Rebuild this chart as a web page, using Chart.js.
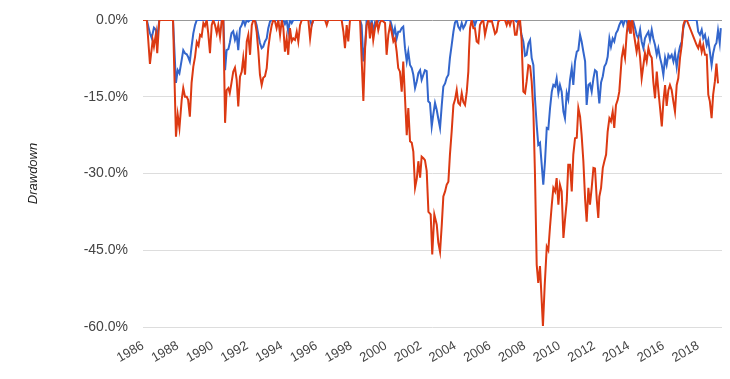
<!DOCTYPE html>
<html>
<head>
<meta charset="utf-8">
<script src="https://cdn.jsdelivr.net/npm/chart.js@4.4.1/dist/chart.umd.min.js"></script>
<style>
  html, body { margin: 0; padding: 0; background: #fff; }
  #wrap { width: 730px; height: 379px; }
</style>
</head>
<body>
<div id="wrap"><canvas id="ddChart" width="730" height="379"></canvas></div>
<script>
// 回撤数据 (年份, 百分比)
const yTicks = [0, -15, -30, -45, -60];
const xTickYears = [1986, 1988, 1990, 1992, 1994, 1996, 1998, 2000, 2002, 2004, 2006, 2008, 2010, 2012, 2014, 2016, 2018];

const blueYears = [
  1986.00, 1986.22, 1986.40, 1986.50, 1986.63, 1986.75, 1986.82, 1986.94, 1987.73, 1987.90,
  1988.00, 1988.10, 1988.23, 1988.32, 1988.42, 1988.52, 1988.60, 1988.70, 1988.80, 1988.90,
  1989.00, 1989.10, 1990.63, 1990.73, 1990.82, 1990.92, 1991.00, 1991.10, 1991.20, 1991.30,
  1991.40, 1991.49, 1991.59, 1991.69, 1991.78, 1991.88, 1991.98, 1992.07, 1992.17, 1992.46,
  1992.55, 1992.65, 1992.74, 1992.84, 1992.93, 1993.03, 1993.13, 1993.22, 1993.32, 1993.42,
  1994.09, 1994.18, 1994.28, 1994.37, 1994.47, 1994.57, 1994.66, 1995.63, 1995.72, 1995.82,
  1998.51, 1998.60, 1998.70, 1998.80, 1998.89, 1998.99, 1999.08, 1999.18, 1999.27, 1999.37,
  1999.47, 1999.56, 2000.24, 2000.33, 2000.43, 2000.52, 2000.62, 2000.71, 2000.81, 2000.91,
  2001.00, 2001.10, 2001.20, 2001.29, 2001.39, 2001.49, 2001.58, 2001.68, 2001.78, 2001.87,
  2001.97, 2002.06, 2002.16, 2002.25, 2002.35, 2002.44, 2002.54, 2002.64, 2002.73, 2002.83,
  2002.93, 2003.02, 2003.12, 2003.22, 2003.31, 2003.41, 2003.50, 2003.60, 2003.69, 2003.79,
  2003.89, 2003.98, 2004.08, 2004.17, 2004.27, 2004.37, 2004.46, 2004.56, 2004.66, 2005.04,
  2005.13, 2005.23, 2007.44, 2007.53, 2007.63, 2007.73, 2007.82, 2007.92, 2008.02, 2008.11,
  2008.21, 2008.31, 2008.40, 2008.50, 2008.59, 2008.69, 2008.78, 2008.88, 2008.98, 2009.07,
  2009.17, 2009.27, 2009.36, 2009.46, 2009.56, 2009.65, 2009.75, 2009.84, 2009.94, 2010.03,
  2010.13, 2010.23, 2010.32, 2010.42, 2010.51, 2010.61, 2010.71, 2010.80, 2010.90, 2011.00,
  2011.09, 2011.19, 2011.28, 2011.38, 2011.48, 2011.57, 2011.67, 2011.76, 2011.86, 2011.96,
  2012.05, 2012.15, 2012.24, 2012.30, 2012.40, 2012.50, 2012.59, 2012.69, 2012.78, 2012.88,
  2012.97, 2013.07, 2013.16, 2013.26, 2013.36, 2013.45, 2013.59, 2013.68, 2013.78, 2013.87,
  2013.97, 2014.07, 2014.16, 2014.26, 2014.36, 2014.45, 2014.55, 2014.65, 2014.74, 2014.84,
  2014.93, 2015.03, 2015.13, 2015.22, 2015.32, 2015.41, 2015.51, 2015.61, 2015.70, 2015.80,
  2015.90, 2015.99, 2016.09, 2016.18, 2016.28, 2016.37, 2016.47, 2016.57, 2016.66, 2016.76,
  2016.85, 2016.95, 2017.05, 2017.14, 2017.24, 2017.34, 2017.91, 2018.00, 2018.10, 2018.20,
  2018.29, 2018.39, 2018.49, 2018.58, 2018.67, 2018.77, 2018.86, 2018.96, 2019.05, 2019.14,
  2019.24, 2019.30
];
const blueValues = [
  0, 0, -2.6, -3.5, -1.5, -2.0, -3.5, 0, 0, -12.3,
  -9.8, -10.4, -7.8, -5.9, -6.5, -6.7, -7.2, -8.1, -5.2, -2.6,
  -1.0, 0, 0, -9.8, -5.9, -5.7, -4.5, -2.6, -2.2, -3.9,
  -2.8, -5.9, -1.6, -1.0, 0, -1.0, 0, -0.3, 0, 0,
  -1.0, -2.9, -4.5, -5.5, -5.2, -4.2, -3.6, -1.6, -0.3, 0,
  0, -0.8, 0, -2.3, 0, -0.6, 0, 0, -1.0, 0,
  0, -1.0, -8.1, -5.0, 0, 0, -1.6, 0, -2.3, -0.5,
  -1.0, 0, 0, -1.0, -2.9, -1.6, -3.6, -2.3, -2.3, -1.6,
  -1.3, -5.5, -8.1, -6.2, -8.8, -9.4, -10.7, -13.3, -12.0, -10.4,
  -9.8, -11.7, -10.7, -9.8, -10.0, -15.9, -16.2, -20.8, -18.5, -16.2,
  -17.6, -19.3, -21.1, -16.6, -13.0, -12.4, -11.3, -10.7, -7.4, -4.9,
  -2.3, -0.5, 0, -1.3, -1.9, -0.6, -1.6, -1.0, 0, 0,
  -1.0, 0, 0, -0.3, 0, -1.0, -3.0, -4.2, -7.0, -6.8,
  -4.6, -3.9, -7.4, -8.8, -15.3, -20.5, -24.4, -24.0, -28.3, -32.2,
  -27.6, -21.1, -21.3, -17.2, -14.0, -12.7, -13.0, -11.4, -14.3, -12.7,
  -14.0, -17.9, -19.2, -14.3, -15.5, -11.7, -9.4, -12.7, -8.1, -6.2,
  -5.9, -2.9, -4.2, -6.2, -8.1, -16.6, -12.7, -12.4, -14.0, -11.4,
  -9.8, -10.1, -14.0, -16.3, -12.2, -11.0, -9.1, -8.5, -7.2, -3.6,
  -5.2, -3.6, -4.2, -2.6, -2.0, -1.0, 0, -1.0, 0, 0,
  -1.6, -0.3, 0, -0.3, -1.6, -2.9, -3.6, -1.9, -4.2, -5.5,
  -3.6, -2.9, -2.3, -3.9, -1.9, -3.6, -4.9, -6.8, -5.5, -7.4,
  -8.8, -10.7, -7.4, -8.8, -6.8, -7.4, -6.8, -8.1, -6.5, -9.2,
  -6.8, -5.2, -4.2, -1.6, -0.3, 0, 0, -2.3, -2.9, -1.9,
  -3.6, -2.9, -4.9, -3.9, -6.2, -8.8, -6.5, -5.0, -4.5, -2.0,
  -4.5, -1.6
];

const redYears = [
  1986.00, 1986.22, 1986.40, 1986.56, 1986.63, 1986.75, 1986.82, 1986.94, 1987.73, 1987.90,
  1988.00, 1988.10, 1988.23, 1988.32, 1988.42, 1988.52, 1988.60, 1988.70, 1988.80, 1988.90,
  1989.00, 1989.10, 1989.20, 1989.29, 1989.38, 1989.48, 1989.57, 1989.67, 1989.76, 1989.86,
  1989.96, 1990.05, 1990.15, 1990.25, 1990.34, 1990.44, 1990.54, 1990.63, 1990.73, 1990.82,
  1990.92, 1991.00, 1991.10, 1991.20, 1991.30, 1991.40, 1991.49, 1991.59, 1991.69, 1991.78,
  1991.88, 1991.98, 1992.07, 1992.17, 1992.27, 1992.36, 1992.46, 1992.55, 1992.65, 1992.74,
  1992.84, 1992.93, 1993.03, 1993.13, 1993.22, 1993.32, 1993.42, 1993.51, 1993.61, 1993.70,
  1993.80, 1993.90, 1994.00, 1994.09, 1994.18, 1994.28, 1994.37, 1994.47, 1994.57, 1994.66,
  1994.76, 1994.86, 1994.95, 1995.05, 1995.15, 1995.53, 1995.63, 1995.72, 1995.82, 1996.49,
  1996.59, 1996.68, 1997.45, 1997.55, 1997.64, 1997.74, 1997.83, 1997.93, 1998.51, 1998.60,
  1998.70, 1998.80, 1998.89, 1998.99, 1999.08, 1999.18, 1999.27, 1999.37, 1999.47, 1999.56,
  1999.66, 1999.75, 1999.95, 2000.04, 2000.14, 2000.24, 2000.33, 2000.43, 2000.52, 2000.62,
  2000.71, 2000.81, 2000.91, 2001.00, 2001.10, 2001.20, 2001.29, 2001.39, 2001.49, 2001.58,
  2001.68, 2001.78, 2001.87, 2001.97, 2002.06, 2002.16, 2002.25, 2002.35, 2002.45, 2002.58,
  2002.67, 2002.79, 2002.93, 2003.02, 2003.12, 2003.22, 2003.31, 2003.41, 2003.50, 2003.60,
  2003.69, 2003.79, 2003.89, 2003.98, 2004.08, 2004.17, 2004.27, 2004.37, 2004.46, 2004.56,
  2004.66, 2004.75, 2004.79, 2004.85, 2004.94, 2005.04, 2005.13, 2005.23, 2005.33, 2005.42,
  2005.52, 2005.61, 2005.71, 2005.81, 2005.90, 2006.00, 2006.09, 2006.29, 2006.38, 2006.48,
  2006.58, 2006.86, 2006.96, 2007.05, 2007.15, 2007.24, 2007.34, 2007.44, 2007.53, 2007.63,
  2007.73, 2007.82, 2007.92, 2008.02, 2008.11, 2008.21, 2008.31, 2008.40, 2008.50, 2008.59,
  2008.69, 2008.78, 2008.88, 2008.98, 2009.05, 2009.15, 2009.27, 2009.36, 2009.46, 2009.56,
  2009.65, 2009.75, 2009.84, 2009.94, 2010.03, 2010.13, 2010.23, 2010.32, 2010.42, 2010.51,
  2010.61, 2010.71, 2010.80, 2010.90, 2011.00, 2011.09, 2011.19, 2011.28, 2011.38, 2011.48,
  2011.57, 2011.67, 2011.76, 2011.86, 2011.96, 2012.05, 2012.15, 2012.24, 2012.30, 2012.40,
  2012.50, 2012.59, 2012.69, 2012.78, 2012.88, 2012.97, 2013.07, 2013.16, 2013.26, 2013.36,
  2013.45, 2013.59, 2013.68, 2013.78, 2013.87, 2013.93, 2014.00, 2014.07, 2014.12, 2014.20,
  2014.26, 2014.36, 2014.45, 2014.55, 2014.65, 2014.74, 2014.84, 2014.93, 2015.03, 2015.13,
  2015.22, 2015.32, 2015.41, 2015.51, 2015.61, 2015.70, 2015.80, 2015.90, 2015.99, 2016.09,
  2016.18, 2016.28, 2016.37, 2016.47, 2016.57, 2016.66, 2016.76, 2016.85, 2016.95, 2017.05,
  2017.14, 2017.24, 2017.34, 2017.91, 2018.00, 2018.10, 2018.20, 2018.29, 2018.39, 2018.49,
  2018.58, 2018.67, 2018.77, 2018.86, 2018.96, 2019.05, 2019.14, 2019.24
];
const redValues = [
  0, 0, -8.6, -3.9, -5.2, -2.6, -6.5, 0, 0, -22.8,
  -18.5, -21.1, -15.6, -13.3, -15.0, -15.0, -15.6, -18.9, -12.3, -9.1,
  -7.2, -4.3, -5.0, -2.9, -3.2, -0.6, -1.2, 0, -2.6, -6.5,
  -1.0, 0, -1.0, -2.6, -1.0, -3.3, 0, 0, -20.1, -13.7,
  -13.3, -14.3, -12.3, -10.1, -9.3, -11.7, -16.9, -11.1, -10.1, -7.4,
  -10.7, -4.2, -2.9, -6.8, -1.0, 0, -0.3, -2.3, -6.2, -10.7,
  -12.7, -11.3, -11.0, -9.4, -5.5, -2.9, -1.0, 0, -0.3, -1.6,
  0, -2.9, 0, -1.6, -6.2, -3.6, -6.8, -1.6, -4.2, -3.6,
  -3.9, -2.3, -4.2, -1.0, 0, 0, -3.6, -1.0, 0, 0,
  -1.0, 0, 0, -2.3, -5.5, -1.0, -4.2, 0, 0, -7.5,
  -15.8, -5.5, -1.0, 0, -3.6, -0.5, -3.9, -1.6, 0, -2.0,
  -0.5, 0, -0.6, -6.8, -2.9, -1.0, -2.3, -4.2, -3.6, -6.2,
  -9.4, -10.1, -14.0, -8.1, -15.2, -22.5, -17.2, -23.7, -24.0, -25.7,
  -32.8, -31.0, -27.6, -30.8, -26.7, -27.0, -27.4, -29.5, -37.5, -38.0,
  -45.8, -38.0, -40.0, -43.5, -45.3, -40.0, -34.5, -33.5, -32.2, -31.6,
  -26.3, -21.8, -16.6, -15.6, -13.7, -16.2, -16.6, -14.3, -16.0, -16.6,
  -14.0, -10.1, -6.0, -1.6, 0, -1.6, -1.6, -4.2, -4.5, -1.0,
  -0.3, 0, -2.9, -1.3, 0, -0.3, 0, -2.7, -2.3, -0.3,
  0, 0, -1.0, 0, -1.0, 0, 0, -2.9, -2.9, -0.3,
  0, -3.9, -14.0, -14.3, -12.0, -8.8, -9.0, -12.0, -17.9, -30.0,
  -47.8, -51.4, -48.1, -55.0, -59.8, -52.0, -44.3, -45.0, -40.3, -36.1,
  -32.8, -33.5, -30.9, -36.1, -32.2, -33.5, -42.6, -39.1, -35.5, -28.3,
  -28.3, -33.5, -26.3, -23.1, -23.0, -17.2, -18.9, -22.5, -27.6, -35.0,
  -39.4, -32.8, -36.1, -32.8, -28.9, -29.0, -35.0, -38.7, -34.5, -32.8,
  -28.9, -27.6, -26.3, -21.8, -19.2, -19.8, -17.9, -21.1, -16.6, -15.6,
  -14.0, -7.4, -5.6, -7.4, -3.0, -1.0, 0, -2.5, -0.5, 0,
  -2.0, -4.2, -6.2, -4.2, -7.4, -11.4, -8.8, -6.5, -8.1, -5.5,
  -6.8, -7.4, -12.0, -15.3, -10.1, -13.7, -17.2, -20.8, -16.0, -12.7,
  -16.8, -13.7, -12.7, -13.7, -16.0, -17.9, -12.7, -11.4, -7.4, -4.9,
  -1.0, 0, 0, -4.9, -5.5, -4.2, -6.2, -4.9, -6.8, -6.8,
  -14.6, -15.9, -19.2, -14.6, -12.0, -8.5, -12.4
];

const X_MIN = 1986;
const X_MAX = 2019.37;

function toPoints(years, values) {
  return years.map((yr, i) => ({ x: yr, y: values[i] }));
}

const fontFamily = '"Liberation Sans", Arial, sans-serif';

new Chart(document.getElementById('ddChart'), {
  type: 'line',
  data: {
    datasets: [{
      label: 'Portfolio 1',
      data: toPoints(blueYears, blueValues),
      borderColor: '#3366cc',
      borderWidth: 2,
      pointRadius: 0,
      fill: false,
      tension: 0,
      order: 1
    }, {
      label: 'Portfolio 2',
      data: toPoints(redYears, redValues),
      borderColor: '#dc3912',
      borderWidth: 2,
      pointRadius: 0,
      fill: false,
      tension: 0,
      order: 0
    }]
  },
  options: {
    responsive: false,
    animation: false,
    layout: { padding: { top: 20, right: 8, left: 0, bottom: 0 } },
    plugins: { legend: { display: false }, tooltip: { enabled: false } },
    scales: {
      x: {
        type: 'linear',
        min: X_MIN,
        max: X_MAX,
        grid: { display: false, drawTicks: false },
        border: { display: false },
        afterBuildTicks: scale => {
          scale.ticks = xTickYears.map(v => ({ value: v }));
        },
        afterFit: scale => { scale.height = 52; },
        ticks: {
          autoSkip: false,
          minRotation: 30,
          maxRotation: 30,
          padding: 11,
          color: '#444',
          font: { family: fontFamily, size: 13 },
          callback: v => String(v)
        }
      },
      y: {
        min: -60,
        max: 0,
        afterBuildTicks: scale => {
          scale.ticks = yTicks.map(v => ({ value: v }));
        },
        afterFit: scale => {
          scale.width = 143;
          // 不让刻度标签间距撑开绘图区上下边
          scale.paddingTop = 0;
          scale.paddingBottom = 0;
        },
        grid: {
          drawTicks: false,
          color: ctx => (ctx.tick && ctx.tick.value === 0) ? '#999' : '#ddd',
          lineWidth: 1
        },
        border: { display: false },
        ticks: {
          padding: 15,
          color: '#444',
          font: { family: fontFamily, size: 14 },
          callback: v => v.toFixed(1) + '%'
        },
        title: {
          display: true,
          text: 'Drawdown',
          color: '#222',
          padding: { top: 26, bottom: 0 },
          font: { family: fontFamily, size: 13, style: 'italic' }
        }
      }
    }
  }
});
</script>
</body>
</html>
